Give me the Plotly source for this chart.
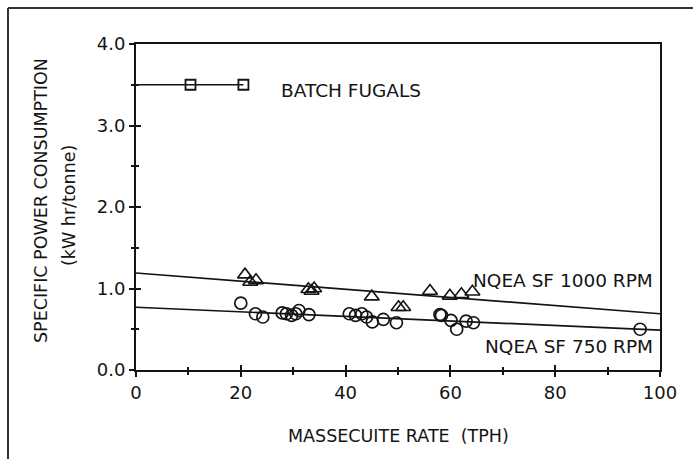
import plotly.graph_objects as go

# ---- data ----
batch_x = [0, 10.4, 20.5]
batch_y = [3.5, 3.5, 3.5]

sf1000_x = [20.8, 21.8, 22.9, 32.9, 33.5, 34.0, 45.0, 50.1, 51.0, 56.1, 59.9, 62.1, 64.2]
sf1000_y = [1.17, 1.08, 1.10, 0.99, 0.97, 1.00, 0.90, 0.77, 0.77, 0.97, 0.91, 0.93, 0.96]

sf750_x = [20.0, 22.8, 24.2, 27.9, 28.7, 29.7, 30.5, 31.1, 33.0, 40.7, 41.9, 43.1, 44.0,
           45.1, 47.2, 49.7, 58.0, 58.3, 60.1, 61.2, 63.0, 64.4, 96.2]
sf750_y = [0.82, 0.69, 0.65, 0.70, 0.69, 0.67, 0.69, 0.73, 0.68, 0.69, 0.67, 0.69, 0.65,
           0.59, 0.62, 0.58, 0.68, 0.67, 0.61, 0.50, 0.60, 0.58, 0.50]

fit_x = [0, 100]
fit1000_y = [1.19, 0.69]
fit750_y = [0.77, 0.49]

x_ticks = [0, 20, 40, 60, 80, 100]
y_ticks = [0.0, 1.0, 2.0, 3.0, 4.0]

FONT = "DejaVu Sans"
INK = "#141414"

fig = go.Figure()

# batch fugals line + squares
fig.add_trace(go.Scatter(x=batch_x, y=batch_y, mode="lines", line=dict(color=INK, width=1.7),
                         xaxis="x2", yaxis="y2", hoverinfo="skip"))
fig.add_trace(go.Scatter(x=batch_x[1:], y=batch_y[1:], mode="markers",
                         marker=dict(symbol="square-open", size=10, color=INK, line=dict(width=1.8))))

# regression lines
fig.add_trace(go.Scatter(x=fit_x, y=fit1000_y, mode="lines", line=dict(color=INK, width=1.7)))
fig.add_trace(go.Scatter(x=fit_x, y=fit750_y, mode="lines", line=dict(color=INK, width=1.7)))

# data points
fig.add_trace(go.Scatter(x=sf1000_x, y=sf1000_y, mode="markers",
                         marker=dict(symbol="triangle-up-open", size=13, color=INK, line=dict(width=1.6))))
fig.add_trace(go.Scatter(x=sf750_x, y=sf750_y, mode="markers",
                         marker=dict(symbol="circle-open", size=12, color=INK, line=dict(width=1.7))))

tick_common = dict(showgrid=False, zeroline=False, tickcolor=INK, tickwidth=1.7)

fig.update_layout(
    width=693, height=459,
    margin=dict(l=136, r=33, t=44, b=89),
    paper_bgcolor="white", plot_bgcolor="white",
    showlegend=False,
    font=dict(family=FONT, size=18, color=INK),
    xaxis=dict(range=[0, 100], tickvals=x_ticks, ticktext=[str(v) for v in x_ticks],
               showline=True, mirror=True, linecolor=INK, linewidth=2,
               ticks="outside", ticklen=5,
               minor=dict(ticks="outside", dtick=10, ticklen=3, tickcolor=INK, tickwidth=1.7),
               tickfont=dict(size=18), **tick_common),
    yaxis=dict(range=[0, 4], tickvals=y_ticks, ticktext=[f"{v:.1f}" for v in y_ticks],
               showline=True, mirror=True, linecolor=INK, linewidth=2,
               ticks="outside", ticklen=5,
               minor=dict(ticks="outside", dtick=0.5, ticklen=3, tickcolor=INK, tickwidth=1.7),
               tickfont=dict(size=18), **tick_common),
    xaxis2=dict(range=[0, 100], overlaying="x", anchor="y2", showticklabels=False,
                tickvals=x_ticks, ticks="inside", ticklen=5, showline=False,
                minor=dict(ticks="inside", dtick=10, ticklen=3, tickcolor=INK, tickwidth=1.7),
                **tick_common),
    yaxis2=dict(range=[0, 4], overlaying="y", anchor="x2", showticklabels=False,
                tickvals=y_ticks, ticks="inside", ticklen=5, showline=False,
                minor=dict(ticks="inside", dtick=0.5, ticklen=3, tickcolor=INK, tickwidth=1.7),
                **tick_common),
)

annotations = [
    dict(text="BATCH FUGALS", x=27.3, y=3.43, xanchor="left", yanchor="middle",
         xref="x", yref="y", showarrow=False, font=dict(size=18.5)),
    dict(text="NQEA SF 1000 RPM", x=99, y=1.10, xanchor="right", yanchor="middle",
         xref="x", yref="y", showarrow=False, font=dict(size=18.5)),
    dict(text="NQEA SF 750 RPM", x=99, y=0.29, xanchor="right", yanchor="middle",
         xref="x", yref="y", showarrow=False, font=dict(size=18.5)),
    dict(text="MASSECUITE RATE  (TPH)", x=0.5, y=0, xref="paper", yref="paper",
         xanchor="center", yanchor="middle", yshift=-66, showarrow=False, font=dict(size=17.5)),
    dict(text="SPECIFIC POWER CONSUMPTION", x=0, y=0.5, xref="paper", yref="paper",
         xanchor="center", yanchor="middle", xshift=-95, yshift=6, textangle=-90,
         showarrow=False, font=dict(size=17.5)),
    dict(text="(kW hr/tonne)", x=0, y=0.5, xref="paper", yref="paper",
         xanchor="center", yanchor="middle", xshift=-67, yshift=1, textangle=-90,
         showarrow=False, font=dict(size=17.5)),
]
fig.update_layout(annotations=annotations)

# outer frame (top and left edges visible in the picture)
px_l, px_t = 8, 8
pw, ph = 524, 326
fig.add_shape(type="line", xref="paper", yref="paper",
              x0=(px_l - 136) / pw, x1=(720 - 136) / pw,
              y0=(370 - px_t) / ph, y1=(370 - px_t) / ph,
              line=dict(color="#333333", width=2))
fig.add_shape(type="line", xref="paper", yref="paper",
              x0=(px_l - 136) / pw, x1=(px_l - 136) / pw,
              y0=(370 - px_t) / ph, y1=(370 - 480) / ph,
              line=dict(color="#333333", width=2))

fig.write_html("out.html", config={"displayModeBar": False},
               post_script="document.body.style.margin='0';document.body.style.overflow='hidden';")
